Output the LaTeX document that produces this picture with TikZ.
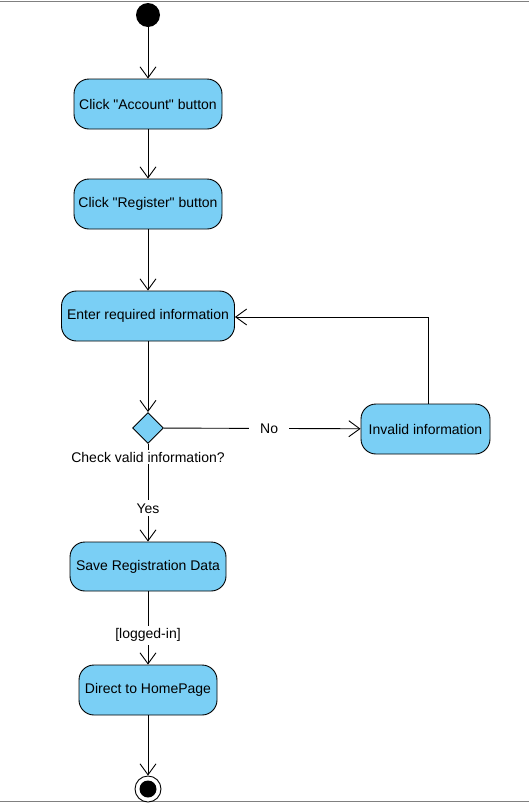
\documentclass[tikz,border=0pt]{standalone}
\usepackage{fontspec}
\setmainfont{Liberation Sans}
\usetikzlibrary{shapes.geometric,arrows.meta}
\definecolor{actblue}{RGB}{122,207,245}
\definecolor{frameg}{RGB}{128,128,128}
\tikzset{
  actbox/.style={draw=black,line width=0.9pt,fill=actblue,rounded corners=15pt,
    minimum height=50pt,inner sep=2pt,font=\fontsize{14}{16}\selectfont},
  dec/.style={draw=black,line width=0.9pt,fill=actblue,diamond,minimum width=31pt,
    minimum height=31pt,inner sep=0pt},
  flow/.style={line width=0.9pt,-{Straight Barb[length=11pt,width=16pt,line width=0.9pt]}},
  lbl/.style={fill=white,inner sep=3pt,font=\fontsize{14}{16}\selectfont},
}
\begin{document}
\begin{tikzpicture}[x=1pt,y=-1pt]
\useasboundingbox (0,0) rectangle (529,804);
\draw[frameg,line width=1pt] (0,1.5) -- (529,1.5);
\draw[frameg,line width=1pt] (0,801.5) -- (529,801.5);

\node[circle,fill=black,minimum size=24pt,inner sep=0pt] (start) at (148,15) {};
\node[actbox,minimum width=148pt] (b1) at (148,104) {Click \textquotedbl Account\textquotedbl{} button};
\node[actbox,minimum width=148pt] (b2) at (148,204) {Click \textquotedbl Register\textquotedbl{} button};
\node[actbox,minimum width=173pt] (enter) at (148,316) {Enter required information};
\node[dec] (check) at (148,428) {};
\node[actbox,minimum width=129pt] (inv) at (425.5,429) {Invalid information};
\node[actbox,minimum width=156pt,minimum height=49pt] (save) at (148,566.5) {Save Registration Data};
\node[actbox,minimum width=138pt] (home) at (148,690) {Direct to HomePage};
\node[circle,draw=black,line width=0.9pt,fill=white,minimum size=26pt,inner sep=0pt] (end) at (148,789) {};
\node[circle,fill=black,minimum size=17pt,inner sep=0pt] (endin) at (148,789) {};

\draw[flow] (start) -- (b1);
\draw[flow] (b1) -- (b2);
\draw[flow] (b2) -- (enter);
\draw[flow] (enter) -- (check);
\draw[flow] (check) -- node[lbl,inner xsep=11pt,pos=0.535] {No} (inv);
\draw[flow] ([xshift=2.5pt]inv.north) |- ([yshift=-1pt]enter.east);
\draw[flow] (check) -- node[lbl,pos=0.66] {Yes} (save);
\draw[flow] (save) -- node[lbl,pos=0.6] {[logged-in]} (home);
\draw[flow] (home) -- (end);
\node[lbl,inner sep=2pt] (checklbl) at (148,457) {Check valid information?};
\end{tikzpicture}
\end{document}
